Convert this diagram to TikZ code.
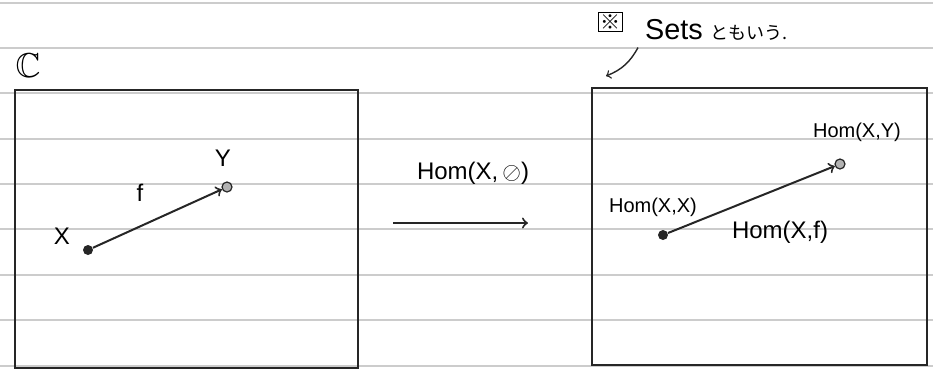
\documentclass[tikz,border=0pt]{standalone}
\usepackage{amsmath}
\usepackage{amssymb}
\usepackage{fontspec}
\setmainfont{Liberation Sans}
\newfontfamily\jpfont{Noto Sans CJK JP}
\usetikzlibrary{positioning}

\tikzset{
  dot/.style={circle, fill=black!85, inner sep=0pt, minimum size=5pt},
  ring/.style={circle, draw=black!85, fill=black!30, line width=0.6pt, inner sep=0pt, minimum size=5pt},
  frame/.style={draw=black!85, line width=1.3pt},
  map/.style={->, line width=1pt, draw=black!85},
  rule/.style={black!20, line width=0.6pt}
}

\begin{document}
\begin{tikzpicture}[x=0.5pt, y=-0.5pt]
  \useasboundingbox (0,0) rectangle (933,371);

  % Notebook lines
  \foreach \y in {3,48,93,139,184,229,275,320,366}
    \draw[rule] (0,\y) -- (933,\y);

  % Category C
  \draw[frame] (15,90) rectangle (358,368);
  \node[font=\LARGE] (cat) at (28,66) {$\mathbb{C}$};
  \node[dot] (x) at (88,250) {};
  \node[ring] (y) at (227,187) {};
  \draw[map] (x) -- (y);
  \node[font=\large] (lx) at (62,236) {X};
  \node[font=\large] (ly) at (223,158) {Y};
  \node[font=\large] (lf) at (140,193) {f};

  % Functor
  \coordinate (ha) at (393,223);
  \coordinate (hb) at (528,223);
  \draw[map] (ha) -- (hb);
  \node[font=\large] (lh) at (473,173) {Hom(X,\,$\oslash$)};

  % Sets
  \draw[frame] (592,88) rectangle (927,365);
  \node[dot] (hxx) at (663,235) {};
  \node[ring] (hxy) at (840,164) {};
  \draw[map] (hxx) -- (hxy);
  \node (lxx) at (653,207) {Hom(X,X)};
  \node (lxy) at (857,132) {Hom(X,Y)};
  \node[font=\large] (lxf) at (780,232) {Hom(X,f)};

  % Note
  \node[draw, inner sep=1pt, font=\jpfont] (note) at (610,22) {※};
  \node[anchor=west] (sets) at (638,30) {\Large Sets \jpfont\small ともいう.};
  \coordinate (corner) at (606,76);
  \draw[->, black!85, line width=0.7pt] (sets.south west) to[bend left=20] (corner);
\end{tikzpicture}
\end{document}
